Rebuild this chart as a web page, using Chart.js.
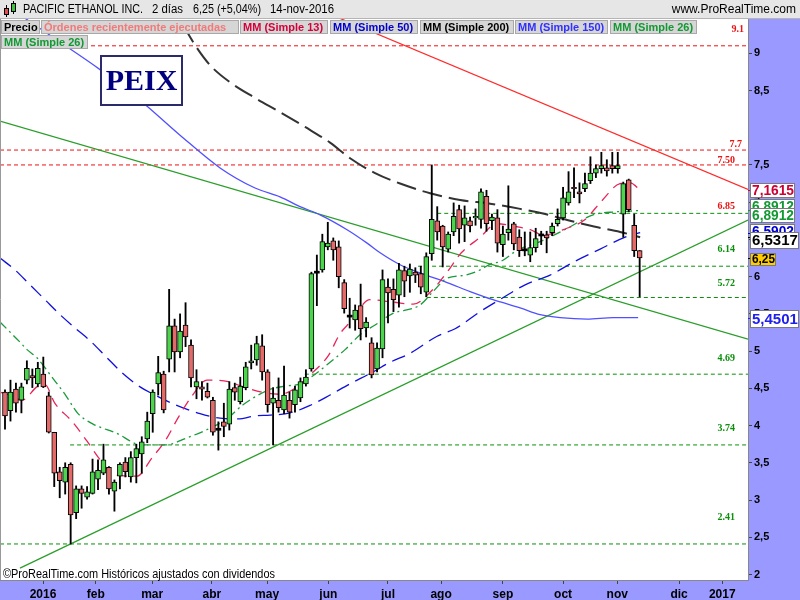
<!DOCTYPE html>
<html>
<head>
<meta charset="utf-8">
<title>PEIX</title>
<script src="https://cdn.jsdelivr.net/npm/chart.js@4.4.1/dist/chart.umd.min.js"></script>
<style>
html,body{margin:0;padding:0;background:#fff;overflow:hidden}
canvas{display:block}
</style>
</head>
<body>
<canvas id="chart" width="800" height="600"></canvas>
<script>
// ================= DATA =================
const candleOpen = [
4.45,4.20,4.49,4.34,4.61,4.67,4.56,4.69,4.40,3.91,
3.38,3.24,3.48,2.83,3.15,3.04,3.09,3.28,3.36,3.44,
3.12,3.32,3.51,3.31,3.57,3.62,3.82,4.16,4.56,4.69,
4.89,5.34,4.99,5.35,5.08,4.52,4.52,4.46,4.34,3.95,
4.05,4.02,4.51,4.32,4.51,4.84,4.88,5.07,4.72,4.30,
4.34,4.21,4.34,4.28,4.37,4.56,4.76,6.06,6.09,6.40,
6.48,6.40,5.92,5.47,5.42,5.61,5.31,5.11,4.76,5.03,
5.86,5.83,5.75,6.08,6.01,6.06,6.04,5.79,6.31,6.75,
6.68,6.37,6.60,6.90,6.69,6.75,6.79,6.77,7.08,6.75,
6.79,6.43,6.59,6.71,6.53,6.36,6.29,6.39,6.56,6.56,
6.59,6.71,6.79,6.99,7.20,7.14,7.18,7.29,7.39,7.45,
7.46,7.49,7.45,6.84,7.30,6.69,6.35];
const candleHigh = [
4.48,4.61,4.57,4.57,4.87,4.76,4.85,4.92,4.45,3.91,
3.44,3.50,3.50,3.19,3.19,3.18,3.55,3.54,3.75,3.45,
3.27,3.50,3.57,3.65,3.75,3.85,4.18,4.48,4.93,4.73,
5.83,5.43,5.50,5.65,5.15,4.75,4.59,4.57,4.38,4.05,
4.30,4.59,4.57,4.65,4.85,5.08,5.20,5.22,4.75,4.51,
4.64,4.80,4.45,4.53,4.64,4.75,6.06,6.29,6.57,6.73,
6.52,6.48,5.96,5.71,5.62,5.90,5.45,5.18,5.11,6.09,
5.97,5.97,6.18,6.14,6.17,6.12,6.14,6.32,7.50,6.94,
6.69,6.60,6.99,6.96,6.95,6.80,6.91,7.18,7.16,6.84,
6.90,6.68,7.22,6.73,6.63,6.60,6.60,6.65,6.61,6.61,
6.72,6.91,7.20,7.41,7.46,7.26,7.39,7.61,7.50,7.67,
7.57,7.67,7.67,7.27,7.31,6.84,6.35];
const candleLow = [
3.95,4.06,4.18,4.17,4.56,4.51,4.52,4.51,3.90,3.18,
3.03,3.08,2.41,2.75,2.89,3.01,3.08,3.14,3.34,3.08,
2.85,3.15,3.31,3.24,3.23,3.36,3.77,3.91,4.41,4.17,
4.72,4.72,4.91,5.06,4.52,4.36,4.34,4.37,3.87,3.67,
3.85,3.94,4.34,4.29,4.48,4.76,4.81,4.61,4.18,3.74,
4.18,4.16,4.10,4.18,4.32,4.53,4.73,5.61,6.06,6.36,
6.22,5.85,5.51,5.31,5.28,5.15,5.19,4.64,4.72,4.91,
5.38,5.53,5.59,5.73,5.79,5.92,5.77,5.73,6.22,6.49,
6.13,6.33,6.55,6.45,6.47,6.60,6.69,6.65,6.61,6.63,
6.33,6.27,6.49,6.36,6.27,6.28,6.20,6.33,6.43,6.32,
6.55,6.68,6.76,6.96,7.06,6.99,7.14,7.25,7.33,7.39,
7.35,7.39,7.39,6.53,6.87,6.27,5.73];
const candleClose = [
4.13,4.45,4.30,4.52,4.77,4.64,4.77,4.52,3.91,3.36,
3.26,3.44,2.80,3.15,3.09,3.11,3.38,3.40,3.54,3.15,
3.24,3.48,3.38,3.57,3.69,3.78,4.06,4.45,4.71,4.21,
5.34,4.99,5.27,5.19,4.64,4.59,4.49,4.38,3.91,3.95,
3.99,4.49,4.45,4.53,4.79,4.87,5.10,4.72,4.28,4.37,
4.24,4.41,4.18,4.48,4.59,4.65,6.04,6.06,6.47,6.45,
6.36,6.00,5.57,5.47,5.55,5.30,5.39,4.68,5.04,5.96,
5.78,5.69,6.09,5.94,6.10,6.02,5.86,6.27,6.77,6.60,
6.40,6.57,6.81,6.64,6.79,6.68,6.81,7.14,6.71,6.80,
6.45,6.57,6.64,6.44,6.35,6.36,6.39,6.51,6.56,6.52,
6.68,6.77,7.06,7.14,7.18,7.11,7.25,7.39,7.45,7.49,
7.42,7.45,7.49,7.25,6.90,6.35,6.25];

// moving averages: [candle index, value]
const ma13 = [[-0.9,4.45],[0.9,4.41],[3.1,4.34],[6.0,4.53],[7.3,4.55],[9.1,4.30],[12.2,4.06],[15.0,3.79],[17.4,3.54],[19.9,3.34],[24.1,3.32],[26.9,3.57],[29.4,3.81],[31.6,4.10],[34.2,4.40],[36.9,4.61],[40.8,4.59],[43.9,4.51],[47.5,4.44],[50.3,4.42],[53.2,4.51],[55.9,4.69],[59.1,4.94],[61.2,5.23],[63.1,5.39],[66.7,5.69],[70.7,5.66],[74.6,5.63],[78.1,5.82],[80.8,6.06],[83.4,6.32],[86.7,6.52],[89.9,6.71],[93.6,6.67],[96.0,6.63],[98.4,6.56],[102.7,6.65],[105.9,6.76],[109.1,7.02],[112.4,7.25],[114.3,7.26],[116.1,7.16]];
const ma26 = [[-0.91,5.39],[2.74,5.12],[4.02,5.02],[5.85,4.91],[8.59,4.65],[11.15,4.40],[13.35,4.16],[16.09,4.02],[20.29,3.90],[25.05,3.74],[29.43,3.74],[33.09,3.83],[36.75,3.94],[40.40,4.08],[43.51,4.28],[48.26,4.48],[51.19,4.53],[53.93,4.56],[56.31,4.67],[59.41,4.85],[62.16,5.02],[64.90,5.22],[67.64,5.35],[70.75,5.50],[75.87,5.62],[78.24,5.80],[80.80,5.98],[84.10,6.02],[86.84,6.09],[89.03,6.18],[90.49,6.20],[93.78,6.36],[97.81,6.47],[102.56,6.64],[107.50,6.83],[111.52,6.87],[114.26,6.88],[116.09,6.89]];
const ma50 = [[-0.91,6.25],[1.83,6.09],[4.57,5.89],[7.31,5.69],[10.05,5.49],[12.80,5.31],[15.54,5.14],[18.65,4.91],[21.39,4.71],[24.68,4.52],[27.42,4.41],[31.08,4.28],[35.65,4.16],[39.31,4.10],[42.60,4.09],[45.70,4.13],[48.45,4.14],[52.10,4.17],[55.76,4.27],[59.41,4.41],[62.80,4.55],[67.00,4.71],[70.38,4.85],[74.04,4.97],[78.98,5.20],[82.27,5.30],[86.84,5.53],[90.86,5.71],[95.06,5.89],[99.63,6.02],[104.02,6.20],[108.78,6.37],[113.35,6.53],[116.09,6.59]];
const ma150 = [[3.66,9.47],[10.05,9.15],[17.37,8.78],[24.68,8.37],[31.99,7.90],[39.31,7.46],[45.70,7.19],[50.27,7.07],[53.93,6.94],[57.59,6.83],[62.52,6.63],[66.18,6.45],[68.56,6.32],[72.21,6.16],[75.87,6.05],[80.80,5.92],[85.01,5.80],[89.21,5.69],[94.15,5.58],[97.81,5.49],[101.46,5.45],[106.40,5.43],[111.15,5.45],[115.72,5.45]];
const ma200 = [[32.54,9.38],[34.73,9.11],[37.48,8.84],[41.13,8.61],[45.70,8.40],[50.27,8.21],[54.84,8.01],[59.41,7.80],[63.07,7.59],[67.64,7.39],[72.21,7.25],[77.70,7.12],[83.18,7.03],[88.67,6.98],[94.15,6.91],[98.72,6.84],[103.29,6.75],[107.86,6.67],[112.43,6.60],[116.09,6.53]];

// trend lines: [candle index, price]
const trendDown = [[-0.914,8.09],[135.8,5.16]];
const trendUp = [[2.74,2.085],[135.8,6.76]];
const trendRed = [[55,9.66],[135.8,7.17]];

// horizontal levels
const levelValues = [9.1,7.7,7.50,6.85,6.14,5.72,4.69,3.74,2.41];
const levelLabels = ['9.1','7.7','7.50','6.85','6.14','5.72','4.69','3.74','2.41'];
const levelStartIndex = [-0.914,-0.914,-0.914,79.0,75.5,77.1,54.8,11.9,-0.914];

// axes
const monthTickIndex = [6.95,16.6,26.9,37.8,47.9,59.1,70.0,79.7,91.0,102.0,111.9,123.2,131.1];
const monthLabels = ['2016','feb','mar','abr','may','jun','jul','ago','sep','oct','nov','dic','2017'];
const yTickValues = [2,2.5,3,3.5,4,4.5,5,5.5,6,6.5,7,7.5,8.5,9];

// last values shown on the price axis
const lastValues = [7.1615,6.8912,6.8912,6.5902,6.5317,6.25,5.4501];
const lastValueLabels = ['7,1615','6,8912','6,8912','6,5902','6,5317','6,25','5,4501'];

const legendItems = ['Precio','Órdenes recientemente ejecutadas','MM (Simple 13)','MM (Simple 50)','MM (Simple 200)','MM (Simple 150)','MM (Simple 26)','MM (Simple 26)'];

// ================= STYLE =================
const X_MIN = -0.914, X_MAX = 135.8, Y_MIN = 1.926, Y_MAX = 9.46;
const UP = '#4cd44c', DOWN = '#e46a6a';
const LVL_RED = '#ee1111', LVL_GREEN = '#0c8f0c';
const levelLineColors = [LVL_RED,LVL_RED,LVL_RED,LVL_GREEN,LVL_GREEN,LVL_GREEN,LVL_GREEN,LVL_GREEN,LVL_GREEN];
const levelTextColors = [LVL_RED,LVL_RED,LVL_RED,LVL_RED,LVL_GREEN,LVL_GREEN,LVL_GREEN,LVL_GREEN,LVL_GREEN];
const levelTextRight = [744,742,735,735,735,735,735,735,735];
const levelTextDy = [-16,-6,-5,-6.5,-17,-14.5,-15.5,-16.5,-26.5];
const legendBoxes = [[1,20,39,14],[41,20,198,14],[240,20,88,14],[330,20,88,14],[420,20,94,14],[515,20,93,14],[610,20,87,14],[1,35,87,14]];
const legendColors = ['#000000','#f07a7a','#d4003a','#0000cc','#000000','#3030ff','#119933','#119933'];
const boxStyles = [
  {dy:0, h:15, w:45, font:'bold 14px Arial', color:'#cc0033', bg:'#ffffff', tick:'#cc0033'},
  {dy:-4, h:15, w:45, font:'bold 14px Arial', color:'#119933', bg:'#ffffff', tick:'#119933'},
  {dy:5, h:15, w:45, font:'bold 14px Arial', color:'#119933', bg:'#ffffff', tick:'#119933'},
  {dy:-1, h:15, w:45, font:'bold 14px Arial', color:'#0000cc', bg:'#ffffff', tick:'#0000cc'},
  {dy:3, h:17, w:49, font:'bold 15px Arial', color:'#000000', bg:'#ffffff', tick:'#000000'},
  {dy:1, h:13, w:26, font:'bold 12px Arial', color:'#000000', bg:'#ffcc00', tick:'#000000'},
  {dy:1, h:18, w:49, font:'bold 15px Arial', color:'#2020ee', bg:'#ffffff', tick:'#2020ee'}
];

// ================= BUILD =================
const bodyData = [], bodyColors = [], bodyBorders = [], wickData = [];
candleOpen.forEach((o, i) => {
  const c = candleClose[i];
  let lo = Math.min(o, c), hi = Math.max(o, c);
  const doji = Math.abs(o - c) < 0.005;
  if (doji) { lo -= 0.0135; hi += 0.0135; }
  bodyData.push({x: i, y: [lo, hi]});
  bodyColors.push(doji ? '#000000' : (c > o ? UP : DOWN));
  bodyBorders.push(doji ? 0 : 1);
  wickData.push({x: i, y: [candleLow[i], candleHigh[i]]});
});
const pts = arr => arr.map(p => ({x: p[0], y: p[1]}));
const lineDs = (data, color, width, dash, smooth) => ({
  type: 'line', data: pts(data), borderColor: color, borderWidth: width, borderDash: dash,
  pointRadius: 0, fill: false, cubicInterpolationMode: smooth ? 'monotone' : 'default', tension: 0
});

const datasets = [
  {type:'bar', data: bodyData, backgroundColor: bodyColors, borderColor:'#000000', borderWidth: bodyBorders,
   borderSkipped:false, grouped:false, barPercentage:1, categoryPercentage:1, maxBarThickness:5},
  {type:'bar', data: wickData, backgroundColor:'#000000', borderWidth:0, grouped:false,
   barPercentage:1, categoryPercentage:1, maxBarThickness:1.2},
  lineDs(ma13, '#e8245a', 1.3, [10,7], true),
  lineDs(ma26, '#1a9a3a', 1.3, [9,4,2,4], true),
  lineDs(ma50, '#1010dd', 1.3, [14,7], true),
  lineDs(ma150, '#5050ff', 1.3, [], true),
  lineDs(ma200, '#333333', 2, [20,7], true),
  lineDs(trendDown, '#2a9d2a', 1.2, [], false),
  lineDs(trendUp, '#2a9d2a', 1.2, [], false),
  lineDs(trendRed, '#ff2a2a', 1.2, [], false)
];
levelValues.forEach((v, k) => {
  datasets.push(lineDs([[levelStartIndex[k], v],[X_MAX, v]], levelLineColors[k], 1, [4,3], false));
});

const deco = {
  id: 'deco',
  beforeDraw(chart) {
    const ctx = chart.ctx, a = chart.chartArea;
    ctx.save();
    ctx.fillStyle = '#ffffff'; ctx.fillRect(0, 0, 800, 600);
    ctx.fillStyle = '#9999ff';
    ctx.fillRect(a.right, a.top, 800 - a.right, 600 - a.top);
    ctx.fillRect(0, a.bottom, 800, 600 - a.bottom);
    ctx.restore();
  },
  afterDraw(chart) {
    const ctx = chart.ctx, a = chart.chartArea, ys = chart.scales.y;
    ctx.save();
    // left border
    ctx.strokeStyle = '#999999'; ctx.lineWidth = 1;
    ctx.beginPath(); ctx.moveTo(0.5, a.top); ctx.lineTo(0.5, a.bottom); ctx.stroke();
    // header
    ctx.fillStyle = '#e6e6e6'; ctx.fillRect(0, 0, 800, 19);
    ctx.strokeStyle = '#b4b4b4'; ctx.beginPath(); ctx.moveTo(0, 18.5); ctx.lineTo(800, 18.5); ctx.stroke();
    // icon
    ctx.strokeStyle = '#000'; ctx.lineWidth = 1;
    ctx.beginPath(); ctx.moveTo(6.5, 5); ctx.lineTo(6.5, 17); ctx.moveTo(13.5, 1); ctx.lineTo(13.5, 14); ctx.stroke();
    ctx.fillStyle = '#e05050'; ctx.fillRect(4, 8, 5, 7); ctx.strokeRect(4.5, 8.5, 4, 6);
    ctx.fillStyle = '#40c040'; ctx.fillRect(11, 3, 5, 9); ctx.strokeRect(11.5, 3.5, 4, 8);
    ctx.fillStyle = '#000'; ctx.font = '12px Arial'; ctx.textBaseline = 'middle'; ctx.textAlign = 'left';
    ctx.fillText('PACIFIC ETHANOL INC.', 23, 10, 120);
    ctx.fillText('2 días', 152, 10, 31);
    ctx.fillText('6,25 (+5,04%)', 193, 10, 68);
    ctx.fillText('14-nov-2016', 270, 10, 64);
    ctx.textAlign = 'right';
    ctx.fillText('www.ProRealTime.com', 796, 10, 130);
    // legend boxes
    ctx.textAlign = 'left';
    legendItems.forEach((t, k) => {
      const [x, y, w, h] = legendBoxes[k];
      ctx.fillStyle = '#d6d6d6'; ctx.fillRect(x, y, w, h);
      ctx.strokeStyle = '#a8a8a8'; ctx.strokeRect(x + 0.5, y + 0.5, w - 1, h - 1);
      ctx.fillStyle = legendColors[k]; ctx.font = 'bold 11px Arial';
      ctx.fillText(t, x + 3, y + h / 2 + 0.5, w - 5);
    });
    // level labels
    ctx.font = 'bold 10px "Liberation Serif", "Times New Roman", serif';
    ctx.textAlign = 'right';
    levelValues.forEach((v, k) => {
      ctx.fillStyle = levelTextColors[k];
      ctx.fillText(levelLabels[k], levelTextRight[k], ys.getPixelForValue(v) + levelTextDy[k]);
    });
    // PEIX box
    ctx.fillStyle = '#ffffff'; ctx.fillRect(100, 55, 83, 51);
    ctx.strokeStyle = '#2b2b6b'; ctx.lineWidth = 2; ctx.strokeRect(101, 56, 81, 49);
    ctx.fillStyle = '#000080'; ctx.font = 'bold 30px "Liberation Serif", "Times New Roman", serif';
    ctx.textAlign = 'center'; ctx.fillText('PEIX', 141.5, 82);
    // footer
    ctx.fillStyle = '#000'; ctx.font = '12px Arial'; ctx.textAlign = 'left';
    ctx.fillText('©ProRealTime.com Históricos ajustados con dividendos', 3, 575, 272);
    // axis markers and last-value boxes
    ctx.lineWidth = 1;
    lastValues.forEach((v, k) => {
      const s = boxStyles[k], py = ys.getPixelForValue(v);
      ctx.strokeStyle = s.tick; ctx.beginPath(); ctx.moveTo(a.right, Math.round(py) + 0.5); ctx.lineTo(a.right + 6, Math.round(py) + 0.5); ctx.stroke();
    });
    lastValues.forEach((v, k) => {
      const s = boxStyles[k], cy = ys.getPixelForValue(v) + s.dy;
      const top = Math.round(cy - s.h / 2);
      ctx.fillStyle = s.bg; ctx.fillRect(750, top, s.w, s.h);
      ctx.strokeStyle = '#7a7a7a'; ctx.strokeRect(750.5, top + 0.5, s.w - 1, s.h - 1);
      ctx.fillStyle = s.color; ctx.font = s.font; ctx.textAlign = 'left'; ctx.textBaseline = 'middle';
      ctx.fillText(lastValueLabels[k], 752, top + s.h / 2 + 0.5, s.w - 3);
    });
    ctx.restore();
  }
};

new Chart(document.getElementById('chart'), {
  type: 'bar',
  data: { datasets },
  options: {
    responsive: false, animation: false, devicePixelRatio: 1, events: [],
    layout: { padding: { top: 19, left: 0, right: 0, bottom: 0 } },
    plugins: { legend: { display: false }, tooltip: { enabled: false } },
    scales: {
      x: {
        type: 'linear', min: X_MIN, max: X_MAX, offset: false,
        afterBuildTicks: s => { s.ticks = monthTickIndex.map(v => ({ value: v })); },
        afterFit: s => { s.height = 20; },
        ticks: { autoSkip: false, maxRotation: 0, minRotation: 0, padding: 3, color: '#000',
          font: { family: 'Arial', size: 12, weight: 'bold' },
          callback: (v, i) => monthLabels[i] },
        grid: { drawOnChartArea: false, offset: false, tickLength: 4, color: '#444' },
        border: { color: '#888' }
      },
      y: {
        type: 'linear', position: 'right', min: Y_MIN, max: Y_MAX,
        afterBuildTicks: s => { s.ticks = yTickValues.map(v => ({ value: v })); },
        afterFit: s => { s.width = 52; },
        ticks: { padding: 2, color: '#000', font: { family: 'Arial', size: 11, weight: 'bold' },
          callback: v => String(v).replace('.', ',') },
        grid: { drawOnChartArea: false, tickLength: 4, color: '#444' },
        border: { color: '#888' }
      }
    }
  },
  plugins: [deco]
});
</script>
</body>
</html>
